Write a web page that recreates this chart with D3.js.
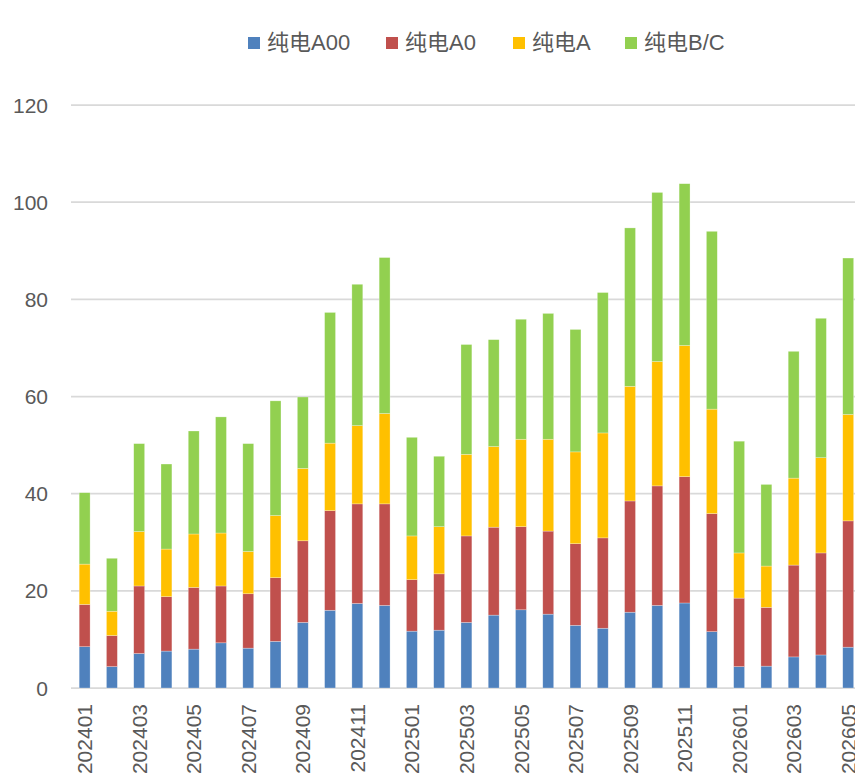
<!DOCTYPE html>
<html>
<head>
<meta charset="utf-8">
<script src="https://cdn.jsdelivr.net/npm/d3@7/dist/d3.min.js"></script>
<style>
  html, body { margin: 0; padding: 0; background: #fff; }
  svg { display: block; }
  text { font-family: "Liberation Sans", "Noto Sans CJK SC", sans-serif; fill: #595959; }
</style>
</head>
<body>
<svg id="chart" width="855" height="777"></svg>
<script>
const categories = ["202401","202402","202403","202404","202405","202406","202407","202408","202409","202410","202411","202412",
  "202501","202502","202503","202504","202505","202506","202507","202508","202509","202510","202511","202512",
  "202601","202602","202603","202604","202605"];
const seriesNames = ["纯电A00", "纯电A0", "纯电A", "纯电B/C"];
const seriesColors = ["#4F81BD", "#C0504D", "#FFC000", "#92D050"];
const valuesA00 = [8.5,4.4,7.1,7.6,8.0,9.3,8.2,9.6,13.5,16.0,17.4,17.0,11.7,11.9,13.5,15.0,16.1,15.2,12.9,12.3,15.6,17.0,17.5,11.6,4.4,4.5,6.4,6.8,8.4];
const valuesA0  = [8.7,6.4,13.9,11.2,12.7,11.7,11.2,13.1,16.8,20.5,20.5,20.9,10.6,11.6,17.8,18.1,17.1,17.1,16.8,18.6,22.9,24.6,26.0,24.3,14.1,12.1,18.9,21.0,26.0];
const valuesA   = [8.3,5.0,11.2,9.8,11.0,10.9,8.7,12.8,14.9,13.9,16.1,18.6,9.0,9.7,16.8,16.6,18.0,18.9,18.9,21.6,23.6,25.6,27.0,21.5,9.3,8.5,17.9,19.6,21.9];
const valuesBC  = [14.7,10.9,18.1,17.5,21.2,23.9,22.2,23.6,14.7,26.9,29.1,32.1,20.3,14.5,22.6,22.0,24.7,25.9,25.2,28.9,32.6,34.8,33.3,36.6,23.0,16.8,26.1,28.7,32.2];
const yTicks = [0, 20, 40, 60, 80, 100, 120];

const svg = d3.select("#chart");
const plotLeft = 71, plotTop = 105, plotBottom = 688;
const step = 27.27;
const x = d3.scaleBand().domain(categories)
  .range([plotLeft, plotLeft + step * categories.length])
  .paddingInner(0.6).paddingOuter(0.3);
const y = d3.scaleLinear().domain([0, 120]).range([plotBottom, plotTop]);

// gridlines
svg.append("g").selectAll("line").data(yTicks).join("line")
  .attr("x1", plotLeft).attr("x2", 862)
  .attr("y1", d => y(d)).attr("y2", d => y(d))
  .attr("stroke", "#d9d9d9").attr("stroke-width", 1.75);

// y labels
svg.append("g").selectAll("text").data(yTicks).join("text")
  .attr("x", 48).attr("y", d => y(d)).attr("dy", "0.36em")
  .attr("text-anchor", "end").attr("font-size", 21)
  .text(d => d);

// stacked data
const table = categories.map((c, i) => ({
  cat: c, s0: valuesA00[i], s1: valuesA0[i], s2: valuesA[i], s3: valuesBC[i]
}));
const stack = d3.stack().keys(["s0","s1","s2","s3"])(table);

svg.append("g").selectAll("g").data(stack).join("g")
  .attr("fill", (d, i) => seriesColors[i])
  .selectAll("rect").data(d => d).join("rect")
  .attr("x", d => x(d.data.cat))
  .attr("width", x.bandwidth())
  .attr("y", d => y(d[1]))
  .attr("height", d => y(d[0]) - y(d[1]))
  .attr("stroke", "#ffffff").attr("stroke-width", 0.6).attr("stroke-opacity", 0.45);

// x labels every other
svg.append("g").selectAll("text").data(categories.filter((c, i) => i % 2 === 0)).join("text")
  .attr("transform", d => `translate(${x(d) + x.bandwidth() / 2},704) rotate(-90)`)
  .attr("dy", "0.36em")
  .attr("text-anchor", "end").attr("font-size", 21)
  .text(d => d);

// legend
const legendX = [248, 386, 513, 625];
const lg = svg.append("g");
seriesNames.forEach((name, i) => {
  lg.append("rect").attr("x", legendX[i]).attr("y", 37).attr("width", 12).attr("height", 12)
    .attr("fill", seriesColors[i]);
  lg.append("text").attr("x", legendX[i] + 19).attr("y", 49.5)
    .attr("font-size", 22).text(name);
});
</script>
</body>
</html>
